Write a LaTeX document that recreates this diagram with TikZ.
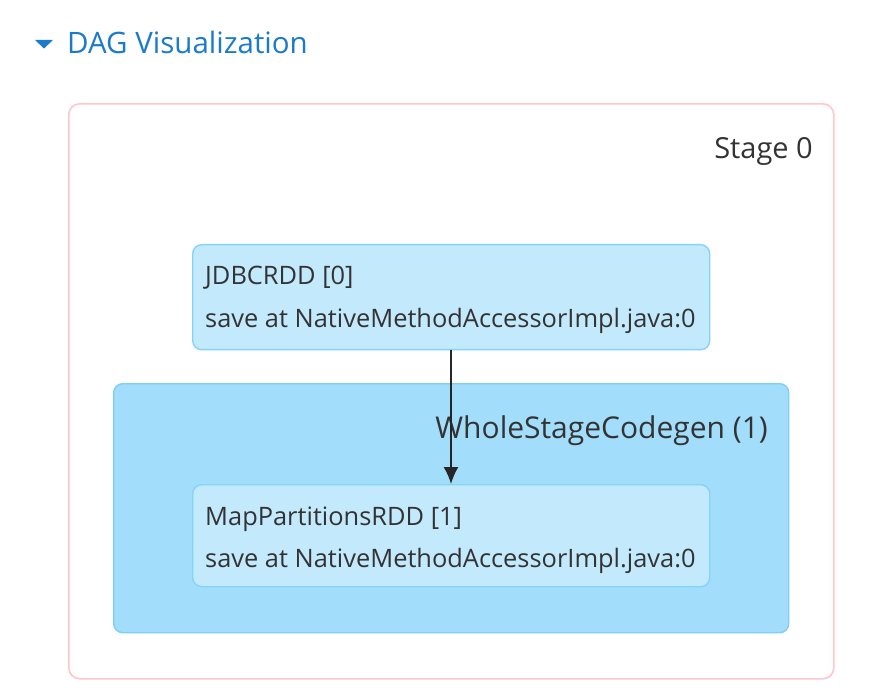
\documentclass[tikz,border=0pt]{standalone}
\usepackage{fontspec}
\setmainfont{Open Sans}
\usetikzlibrary{arrows.meta}
\definecolor{linkblue}{HTML}{1B7BCB}
\definecolor{stagepink}{HTML}{FFC6CE}
\definecolor{rddfill}{HTML}{C3E9FC}
\definecolor{rddline}{HTML}{86D3F8}
\definecolor{clfill}{HTML}{A2DDFB}
\definecolor{clline}{HTML}{7FCEF5}
\definecolor{txt}{HTML}{333333}
\tikzset{
  stagebox/.style={draw=stagepink, line width=1.6pt, fill=white, rounded corners=11pt, anchor=north west, inner sep=0pt},
  clusterbox/.style={draw=clline, line width=1.4pt, fill=clfill, rounded corners=9pt, anchor=north west, inner sep=0pt},
  rddbox/.style={draw=rddline, line width=1.4pt, fill=rddfill, rounded corners=9pt, anchor=north west, inner sep=0pt},
  rddtext/.style={anchor=base west, inner sep=0pt, text=txt, font=\fontsize{25.4}{30}\selectfont},
  bigtext/.style={anchor=base east, inner sep=0pt, text=txt, font=\fontsize{30}{36}\selectfont},
  edge/.style={draw=black!85, line width=1.8pt, -{Latex[length=17pt,width=15pt]}}
}
\begin{document}
\begin{tikzpicture}[x=1pt,y=-1pt]
\useasboundingbox (0,0) rectangle (875,692);
\fill[white] (0,0) rectangle (875,692);
% header
\fill[linkblue] (35,40) -- (53,40) -- (44,48.5) -- cycle;
\node[anchor=base west, inner sep=0pt, text=linkblue, font=\fontsize{29.5}{34}\selectfont] (title) at (67,54) {DAG Visualization};
% stage
\node[stagebox, minimum width=765pt, minimum height=575pt] (stage) at (68,103) {};
\node[bigtext, font=\fontsize{29}{34}\selectfont] (stagelbl) at (813,159) {Stage 0};
% cluster
\node[clusterbox, minimum width=675pt, minimum height=249pt] (cluster) at (113,383) {};
\node[bigtext] (clusterlbl) at (768,438) {WholeStageCodegen (1)};
% rdd 0
\node[rddbox, minimum width=517pt, minimum height=105pt] (rdd0) at (192,244) {};
\node[rddtext] (rdd0a) at (205,285) {JDBCRDD [0]};
\node[rddtext] (rdd0b) at (205,328) {save at NativeMethodAccessorImpl.java:0};
% rdd 1
\node[rddbox, minimum width=517pt, minimum height=102pt] (rdd1) at (192,484) {};
\node[rddtext] (rdd1a) at (205,525) {MapPartitionsRDD [1]};
\node[rddtext] (rdd1b) at (205,567) {save at NativeMethodAccessorImpl.java:0};
% edge
\draw[edge] (rdd0.south -| 451,0) -- (rdd1.north -| 451,0);
\end{tikzpicture}
\end{document}
